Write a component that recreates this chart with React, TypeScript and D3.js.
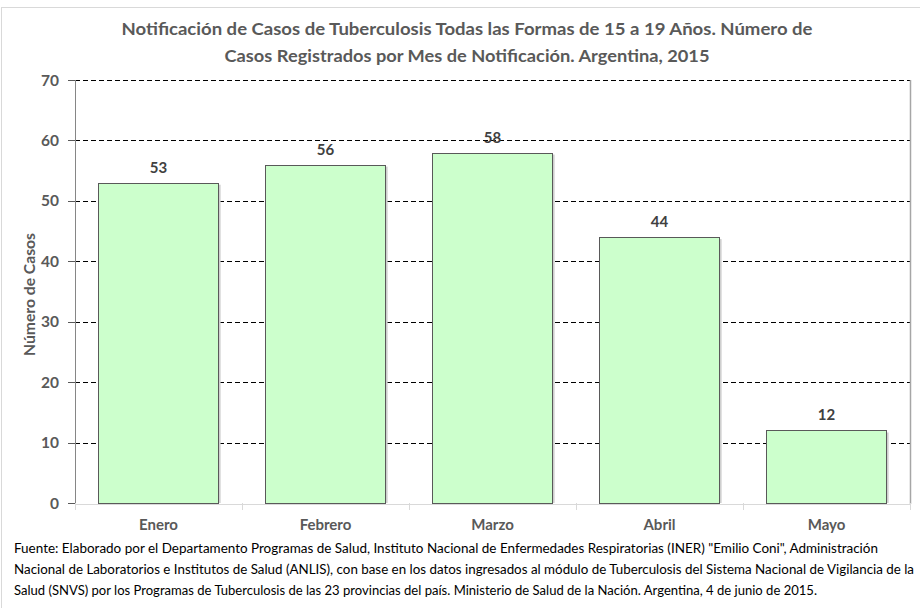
import * as d3 from "d3";
import React from "react";

const months = ["Enero", "Febrero", "Marzo", "Abril", "Mayo"];
const casos = [53, 56, 58, 44, 12];
const yTicks = [0, 10, 20, 30, 40, 50, 60, 70];

const titleLines = [
    "Notificación de Casos de Tuberculosis Todas las Formas de 15 a 19 Años. Número de",
    "Casos Registrados por Mes de Notificación. Argentina, 2015",
];
const fuenteLines = [
    "Fuente: Elaborado por el Departamento Programas de Salud, Instituto Nacional de Enfermedades Respiratorias (INER) \"Emilio Coni\", Administración",
    "Nacional de Laboratorios e Institutos de Salud (ANLIS), con base en los datos ingresados al módulo de Tuberculosis del Sistema Nacional de Vigilancia de la",
    "Salud (SNVS) por los Programas de Tuberculosis de las 23 provincias del país. Ministerio de Salud de la Nación. Argentina, 4 de junio de 2015.",
];
const fuenteWidths = [864, 900, 803];
const titleWidths = [691, 485];

const W = 920;
const H = 608;
const left = 75, right = 910, top = 80, bottom = 503;
const font = "Lato, 'Open Sans', sans-serif";

export default function App() {
    const x = d3.scaleBand().domain(months).range([left, right]).paddingInner(0.28).paddingOuter(0.14);
    const y = d3.scaleLinear().domain([0, 70]).range([bottom, top]);
    const step = x.step();

    return (
        <svg width={W} height={H} style={{ position: "absolute", left: 0, top: 0 }} fontFamily={font}>
            <rect x={0} y={0} width={W} height={H} fill="#fff" />
            <rect x={1.5} y={7.5} width={W + 10} height={H + 10} fill="none" stroke="#d9d9d9" />

            {titleLines.map((t, i) => (
                <text key={i} x={467} y={35 + i * 27} textAnchor="middle" fontSize={17.5} fontWeight="bold"
                    fill="#595959" textLength={titleWidths[i]} lengthAdjust="spacingAndGlyphs">{t}</text>
            ))}

            {/* gridlines */}
            {yTicks.filter(t => t > 0).map(t => (
                <line key={t} x1={left} x2={right} y1={Math.round(y(t)) + 0.5} y2={Math.round(y(t)) + 0.5}
                    stroke="#000" strokeDasharray="5,3" />
            ))}

            {/* bars */}
            {months.map((m, i) => (
                <g key={m}>
                    <rect x={x(m)! + 2} y={y(casos[i]) + 2} width={x.bandwidth()} height={bottom - y(casos[i]) - 2}
                        fill="#cfcfcf" />
                    <rect x={Math.round(x(m)!) + 0.5} y={Math.round(y(casos[i])) + 0.5} width={Math.round(x.bandwidth())}
                        height={bottom - Math.round(y(casos[i]))} fill="#ccffcc" stroke="#595959" />
                    <text x={x(m)! + x.bandwidth() / 2} y={y(casos[i]) - 10} textAnchor="middle" fontSize={15}
                        fontWeight="bold" fill="#404040">{casos[i]}</text>
                    <text x={x(m)! + x.bandwidth() / 2} y={530} textAnchor="middle" fontSize={15}
                        fontWeight="bold" fill="#595959">{m}</text>
                </g>
            ))}

            {/* axes */}
            <line x1={left + 0.5} x2={left + 0.5} y1={top} y2={bottom} stroke="#868686" />
            <line x1={right + 0.5} x2={right + 0.5} y1={top} y2={bottom + 1} stroke="#a6a6a6" strokeWidth={1.5} />
            <line x1={left} x2={right} y1={bottom + 1.5} y2={bottom + 1.5} stroke="#d9d9d9" />
            {d3.range(months.length + 1).map(i => (
                <line key={i} x1={left + i * step + 0.5} x2={left + i * step + 0.5} y1={bottom} y2={bottom + 7}
                    stroke="#d9d9d9" />
            ))}
            {yTicks.map(t => (
                <g key={t}>
                    <line x1={68} x2={left} y1={Math.round(y(t)) + 0.5} y2={Math.round(y(t)) + 0.5} stroke="#595959" />
                    <text x={59} y={y(t) + 5.5} textAnchor="end" fontSize={15.5} fontWeight="bold" fill="#595959">{t}</text>
                </g>
            ))}
            <text transform={`translate(35,${(top + bottom) / 2 + 3}) rotate(-90)`} textAnchor="middle" fontSize={15}
                fontWeight="bold" fill="#595959" textLength={123} lengthAdjust="spacingAndGlyphs">Número de Casos</text>

            {fuenteLines.map((t, i) => (
                <text key={i} x={14} y={553 + i * 21} fontSize={12.5} fill="#000" textLength={fuenteWidths[i]}
                    lengthAdjust="spacingAndGlyphs">{t}</text>
            ))}
        </svg>
    );
}
